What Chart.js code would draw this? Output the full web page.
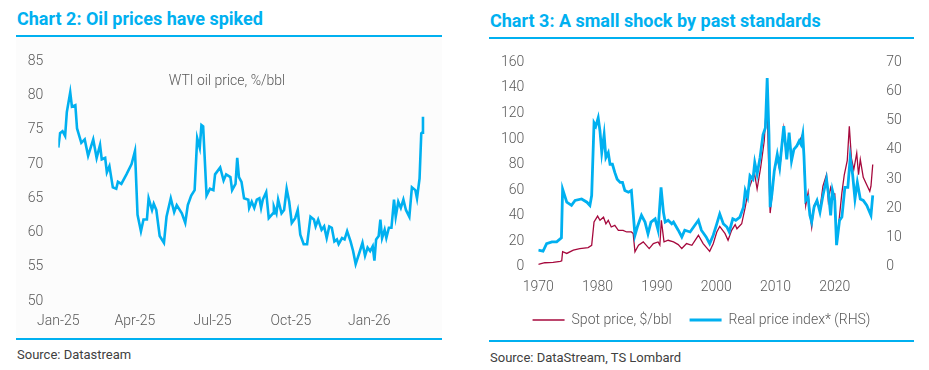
<!DOCTYPE html>
<html>
<head>
<meta charset="utf-8">
<script src="https://cdn.jsdelivr.net/npm/chart.js@4.4.1/dist/chart.umd.min.js"></script>
<style>
  body { margin: 0; width: 929px; height: 370px; background: #fff; font-family: Roboto, sans-serif; position: relative; overflow: hidden; }
  .title { position: absolute; font-weight: bold; font-size: 18px; color: #00B0F0; white-space: nowrap; }
  .rule { position: absolute; height: 2px; background: #00B0F0; }
  .source { position: absolute; font-size: 13px; color: #404040; white-space: nowrap; }
  .box { position: absolute; }
</style>
</head>
<body>
<div class="title" style="left:17px; top:8px;">Chart 2: Oil prices have spiked</div>
<div class="rule" style="left:16px; top:35px; width:426px;"></div>
<div class="box" style="left:16px; top:37px; width:426px; height:302px; background:#fcfcfc;"></div>
<div class="box" style="left:16px; top:38px;"><canvas id="wti" width="426" height="300"></canvas></div>
<div class="rule" style="left:16px; top:338px; width:426px;"></div>
<div class="source" style="left:17px; top:347px;">Source: Datastream</div>

<div class="title" style="left:490px; top:10px;">Chart 3: A small shock by past standards</div>
<div class="rule" style="left:489px; top:37px; width:425px;"></div>
<div class="box" style="left:489px; top:40px;"><canvas id="hist" width="425" height="300"></canvas></div>
<div class="rule" style="left:489px; top:340px; width:425px;"></div>
<div class="source" style="left:490px; top:350px;">Source: DataStream, TS Lombard</div>

<script>
// Chart 2: WTI, days since 1 Jan 2025
const wtiDay = [0,2,5,8,10,14,16,20,22,27,31,35,41,45,49,51,55,57,60,64,68,70,74,80,86,90,93,97,100,104,106,110,112,115,119,124,127,132,136,139,145,149,152,156,160,163,166,168,170,174,178,182,184,190,194,197,202,204,208,210,212,215,218,223,224,227,230,233,236,238,240,244,247,252,253,256,258,262,265,268,271,274,278,281,284,288,292,296,300,302,305,309,312,315,318,321,324,327,329,333,336,339,343,346,349,354,357,360,363,366,369,371,373,376,378,380,383,385,388,391,394,396,399,402,405,408,412,415,419,421,424,426,427,428];
const wtiPrice = [72.4,74.5,74.8,74.1,77.6,80.5,78.4,78.6,75.2,73.1,73.6,71.2,73.6,70.9,72.8,70.7,70.9,68.8,69.7,66.6,66.4,67.4,67.1,68.5,70.0,71.9,62.6,60.2,61.9,61.9,65.0,63.3,64.2,63.3,59.5,58.5,62.3,65.0,63.0,64.0,62.8,61.4,64.0,65.4,66.2,73.8,72.4,75.7,75.5,65.4,66.4,66.2,68.5,69.5,67.6,68.5,68.1,66.2,67.1,70.9,68.1,67.4,65.0,64.8,63.6,64.5,63.6,64.8,65.0,63.6,64.8,65.9,62.1,62.8,63.8,62.8,64.8,62.8,63.3,66.4,64.5,61.4,62.1,63.3,59.7,58.3,58.3,62.3,61.9,60.9,61.9,60.4,60.9,59.2,60.9,60.7,58.7,59.0,58.3,59.2,59.0,60.2,58.7,57.3,55.4,57.3,58.5,56.6,57.8,57.3,58.0,55.9,59.0,59.5,61.9,59.2,60.4,59.2,60.7,60.7,64.8,62.3,64.5,63.6,64.8,63.3,62.3,66.6,66.2,65.0,67.9,74.5,74.6,76.9];
const wtiTickDays = [0, 90, 181, 273, 365];
const wtiTickLabels = ["Jan-25", "Apr-25", "Jul-25", "Oct-25", "Jan-26"];

// Chart 3: spot price ($/bbl, LHS) and real price index (RHS)
const spotYear = [1970.0,1971.1,1972.5,1973.7,1973.95,1974.1,1974.8,1975.9,1977.0,1978.4,1979.0,1979.4,1980.0,1980.4,1981.0,1981.4,1981.8,1982.3,1982.9,1983.5,1984.3,1984.9,1985.7,1986.0,1986.3,1986.9,1987.7,1988.7,1989.4,1990.2,1990.5,1990.75,1991.2,1991.9,1992.8,1993.6,1994.2,1995.0,1995.9,1997.0,1997.8,1998.9,1999.5,2000.1,2000.6,2001.5,2002.0,2002.6,2003.2,2003.5,2004.3,2004.9,2005.4,2006.0,2006.5,2006.9,2007.5,2008.1,2008.55,2008.9,2009.1,2009.4,2009.8,2010.3,2010.7,2011.4,2011.9,2012.3,2012.7,2013.1,2013.6,2014.0,2014.3,2014.6,2014.8,2015.1,2015.5,2015.8,2016.1,2016.5,2017.0,2017.5,2018.0,2018.6,2018.9,2019.3,2019.6,2020.0,2020.3,2020.8,2021.2,2021.6,2022.1,2022.45,2022.8,2023.2,2023.7,2024.0,2024.3,2024.8,2025.4,2025.9,2026.1,2026.4];
const spotPrice = [1.8,3.1,3.4,4.2,4.6,11.7,10.4,13.0,14.2,15.0,16.8,35.0,39.6,36.3,38.8,33.6,36.3,31.1,32.4,28.5,28.5,27.2,27.2,26.0,11.7,16.8,19.4,14.2,18.1,19.4,17.0,36.3,19.4,20.7,19.4,17.3,14.2,18.1,16.8,24.6,18.1,12.0,18.0,27.2,31.6,25.9,20.7,28.5,33.0,29.7,33.6,46.6,59.6,67.3,72,60.8,77.7,98.4,133,70,42,55,75,85,76,108,85,104,84,92,95,97,101,104,85,48,58,42,31,48,52,45,63,72,52,62,57,57,17,40,58,72,83,110,85,76,89,72,84,70,64,59,63,80];
const realYear = [1970.0,1970.8,1971.4,1972.3,1973.1,1973.9,1974.1,1974.8,1975.6,1976.2,1977.3,1978.2,1978.7,1979.0,1979.4,1979.7,1980.1,1980.4,1980.7,1981.1,1981.4,1981.8,1982.1,1982.5,1982.9,1983.3,1983.8,1984.2,1984.6,1985.2,1985.7,1986.3,1986.7,1987.4,1988.0,1988.5,1989.0,1989.7,1990.2,1990.7,1991.1,1991.4,1991.9,1992.5,1992.8,1993.6,1994.2,1994.7,1995.6,1996.4,1997.0,1997.5,1998.3,1998.9,1999.5,2000.1,2000.6,2001.2,2001.8,2002.2,2002.8,2003.3,2004.0,2004.6,2004.9,2005.3,2005.7,2006.2,2006.5,2006.9,2007.4,2007.9,2008.3,2008.6,2008.9,2009.1,2009.4,2009.8,2010.3,2010.7,2011.4,2011.9,2012.3,2012.7,2013.1,2013.6,2014.0,2014.3,2014.6,2014.8,2015.1,2015.5,2015.8,2016.1,2016.5,2017.0,2017.5,2018.0,2018.6,2019.0,2019.3,2019.6,2020.0,2020.3,2020.8,2021.2,2021.7,2022.2,2022.6,2023.0,2023.4,2023.8,2024.3,2024.8,2025.4,2026.1,2026.4];
const realIndex = [5.7,5.3,7.9,8.5,8.5,9.9,26.6,22.1,21.0,22.7,23.2,22.1,21.0,24.4,49.3,48.2,51.0,46.5,39.1,45.3,37.4,39.1,35.1,35.1,32.3,30.0,28.9,28.9,26.1,25.5,26.1,10.8,13.6,17.6,15.3,11.3,15.3,16.4,12.5,27.2,18.7,15.3,15.9,14.7,15.3,12.5,10.2,12.5,11.9,14.2,15.9,12.5,10.2,7.9,10.8,14.7,18.1,14.7,13.6,11.9,16.4,15.9,17.0,20.4,26.1,23.8,31.2,30.0,35.7,31.7,37.4,45.3,47.6,64.6,45.3,20.4,24.9,32.9,38.5,34.0,48.2,36.8,45.9,36.3,40.2,41.4,43.1,41.9,45.3,38.0,22.7,23.8,17.6,15.3,20.4,22.7,18.7,24.4,30.0,23.8,17.6,26.1,22.7,7.4,15.9,17.0,27.2,27.2,37.4,31.7,23.2,28.9,23.2,22.7,21.0,17.6,24.4];
const yearTicks = [1970, 1980, 1990, 2000, 2010, 2020];

const tickFont = { family: "Roboto", size: 14, weight: "300" };
const tickColor = "#595959";
const noGrid = { display: false, drawTicks: false };
const noBorder = { display: false };

function pairs(xs, ys) {
  return xs.map((x, i) => ({ x: x, y: ys[i] }));
}

// caption inside chart 2
const wtiCaption = {
  id: "wtiCaption",
  afterDraw(chart) {
    const c = chart.ctx;
    c.save();
    c.font = "300 14px Roboto";
    c.fillStyle = tickColor;
    c.textAlign = "center";
    c.textBaseline = "middle";
    c.fillText("WTI oil price, %/bbl", 211, 43);
    c.restore();
  }
};

new Chart(document.getElementById("wti"), {
  type: "line",
  data: {
    datasets: [{
      label: "WTI oil price, %/bbl",
      data: pairs(wtiDay, wtiPrice),
      borderColor: "#00B0F0",
      borderWidth: 2.6,
      pointRadius: 0,
      tension: 0
    }]
  },
  options: {
    responsive: false,
    animation: false,
    devicePixelRatio: 1,
    layout: { padding: { top: 19, left: 0, right: 8.8, bottom: 0 } },
    plugins: { legend: { display: false }, tooltip: { enabled: false } },
    scales: {
      x: {
        type: "linear", min: 0, max: 440,
        grid: noGrid, border: noBorder,
        afterBuildTicks: (s) => { s.ticks = wtiTickDays.map(v => ({ value: v })); },
        afterFit: (s) => { s.height = 37; },
        ticks: {
          font: tickFont, color: tickColor, padding: 12, maxRotation: 0, autoSkip: false,
          callback: (v) => wtiTickLabels[wtiTickDays.indexOf(v)]
        }
      },
      y: {
        min: 50, max: 85,
        grid: noGrid, border: noBorder,
        afterFit: (s) => { s.width = 42.3; },
        ticks: { stepSize: 5, font: tickFont, color: tickColor, padding: 15 }
      }
    }
  },
  plugins: [wtiCaption]
});

new Chart(document.getElementById("hist"), {
  type: "line",
  data: {
    datasets: [{
      label: "Spot price, $/bbl",
      data: pairs(spotYear, spotPrice),
      yAxisID: "y",
      borderColor: "#A6093D",
      backgroundColor: "#A6093D",
      borderWidth: 1.3,
      pointRadius: 0,
      tension: 0,
      order: 1
    }, {
      label: "Real price index* (RHS)",
      data: pairs(realYear, realIndex),
      yAxisID: "y2",
      borderColor: "#00B0F0",
      backgroundColor: "#00B0F0",
      borderWidth: 2.8,
      pointRadius: 0,
      tension: 0,
      order: 0
    }]
  },
  options: {
    responsive: false,
    animation: false,
    devicePixelRatio: 1,
    layout: { padding: { top: 18, left: 0, right: 0, bottom: 3 } },
    plugins: {
      tooltip: { enabled: false },
      legend: {
        position: "bottom",
        labels: {
          usePointStyle: true, pointStyle: "line", pointStyleWidth: 32,
          font: tickFont, color: tickColor, padding: 18,
          sort: (a, b) => a.datasetIndex - b.datasetIndex
        }
      }
    },
    scales: {
      x: {
        type: "linear", min: 1970, max: 2027,
        grid: noGrid, border: noBorder,
        afterBuildTicks: (s) => { s.ticks = yearTicks.map(v => ({ value: v })); },
        afterFit: (s) => { s.height = 28.3; },
        ticks: { font: tickFont, color: tickColor, padding: 12, maxRotation: 0, autoSkip: false, callback: (v) => String(v) }
      },
      y: {
        position: "left", min: 0, max: 160,
        grid: noGrid, border: noBorder,
        afterFit: (s) => { s.width = 49.3; },
        ticks: { stepSize: 20, font: tickFont, color: tickColor, padding: 14 }
      },
      y2: {
        position: "right", min: 0, max: 70,
        grid: noGrid, border: noBorder,
        afterFit: (s) => { s.width = 37.7; },
        ticks: { stepSize: 10, font: tickFont, color: tickColor, padding: 10 }
      }
    }
  }
});
</script>
</body>
</html>
